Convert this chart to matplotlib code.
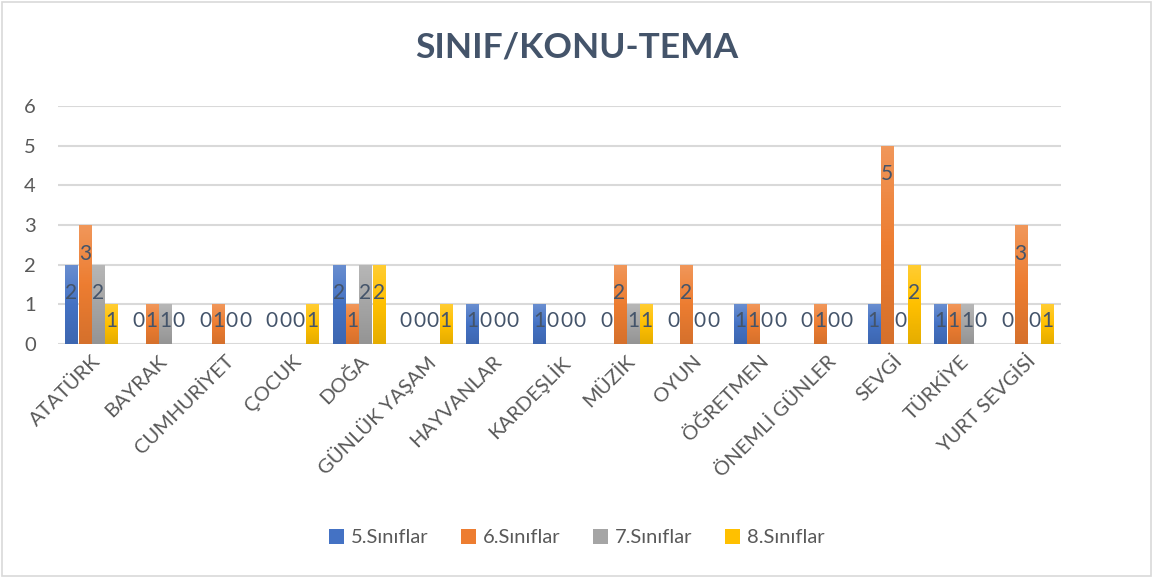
import matplotlib.pyplot as plt
from matplotlib.patches import Rectangle
from matplotlib.colors import LinearSegmentedColormap, to_rgb
import numpy as np

plt.rcParams['font.family'] = ['Lato', 'DejaVu Sans']

# chart data
categories = ["ATATÜRK", "BAYRAK", "CUMHURİYET", "ÇOCUK", "DOĞA", "GÜNLÜK YAŞAM",
              "HAYVANLAR", "KARDEŞLİK", "MÜZİK", "OYUN", "ÖĞRETMEN",
              "ÖNEMLİ GÜNLER", "SEVGİ", "TÜRKİYE", "YURT SEVGİSİ"]
series_names = ["5.Sınıflar", "6.Sınıflar", "7.Sınıflar", "8.Sınıflar"]
sinif5 = [2, 0, 0, 0, 2, 0, 1, 1, 0, 0, 1, 0, 1, 1, 0]
sinif6 = [3, 1, 1, 0, 1, 0, 0, 0, 2, 2, 1, 1, 5, 1, 3]
sinif7 = [2, 1, 0, 0, 2, 0, 0, 0, 1, 0, 0, 0, 0, 1, 0]
sinif8 = [1, 0, 0, 1, 2, 1, 0, 0, 1, 0, 0, 0, 2, 0, 1]
yticks = [0, 1, 2, 3, 4, 5, 6]

colors = ["#4472C4", "#ED7D31", "#A5A5A5", "#FFC000"]
text_col = "#595959"
label_col = "#44546A"


def shade(c, f):
    # f > 0 lighter, f < 0 darker
    r = np.array(to_rgb(c))
    if f > 0:
        return tuple(r + (1 - r) * f)
    return tuple(r * (1 + f))


fig = plt.figure(figsize=(11.53, 5.78), dpi=100)
ax = fig.add_axes([0.0503, 0.4048, 0.8697, 0.4118])

x = np.arange(len(categories))
step = 0.2
width = 0.18
grad = np.linspace(0, 1, 64).reshape(-1, 1)
all_series = [sinif5, sinif6, sinif7, sinif8]
for i, (vals, name, c) in enumerate(zip(all_series, series_names, colors)):
    pos = x + (i - 1.5) * step
    bars = ax.bar(pos, vals, width, color=c, label=name, zorder=3)
    cmap = LinearSegmentedColormap.from_list("g", [shade(c, -0.1), c, shade(c, 0.2)])
    # gradient fill, darker at the base
    for b in bars:
        h = b.get_height()
        if h <= 0:
            continue
        x0 = b.get_x()
        im = ax.imshow(grad, cmap=cmap, origin="lower", aspect="auto",
                       extent=(x0, x0 + b.get_width(), 0, h), zorder=3.5)
        im.set_clip_path(b)
    for p, v in zip(pos, vals):
        y = max(v - 0.72, 0.58)
        ax.text(p, y, str(v), ha="center", va="center", fontsize=15,
                color=label_col, zorder=4)

ax.set_xlim(-0.5, len(categories) - 0.5)
ax.set_ylim(0, 6)
ax.set_yticks(yticks)
ax.yaxis.grid(True, color="#D9D9D9", linewidth=1.5, zorder=0)
ax.set_axisbelow(True)
for s in ax.spines.values():
    s.set_visible(False)
ax.tick_params(axis="both", length=0, labelsize=14.5, colors=text_col)
ax.tick_params(axis="y", pad=16)
ax.tick_params(axis="x", pad=6)
ax.set_xticks(x)
ax.set_xticklabels(categories, rotation=45, ha="right", rotation_mode="anchor")

fig.text(0.5, 0.917, "SINIF/KONU-TEMA", ha="center", va="center",
         fontsize=25.5, fontweight="bold", color=label_col)

ax.legend(loc="center", ncol=4, frameon=False, fontsize=14.5, handlelength=0.75,
          handleheight=0.75, columnspacing=1.6, handletextpad=0.35,
          labelcolor=text_col)
leg = ax.get_legend()
leg.set_bbox_to_anchor((0.5, 0.07), transform=fig.transFigure)

fig.patches.append(Rectangle((0.002, 0.003), 0.996, 0.994, transform=fig.transFigure,
                             fill=False, edgecolor="#D9D9D9", linewidth=1.2))

fig.savefig("out.png", dpi=100)
